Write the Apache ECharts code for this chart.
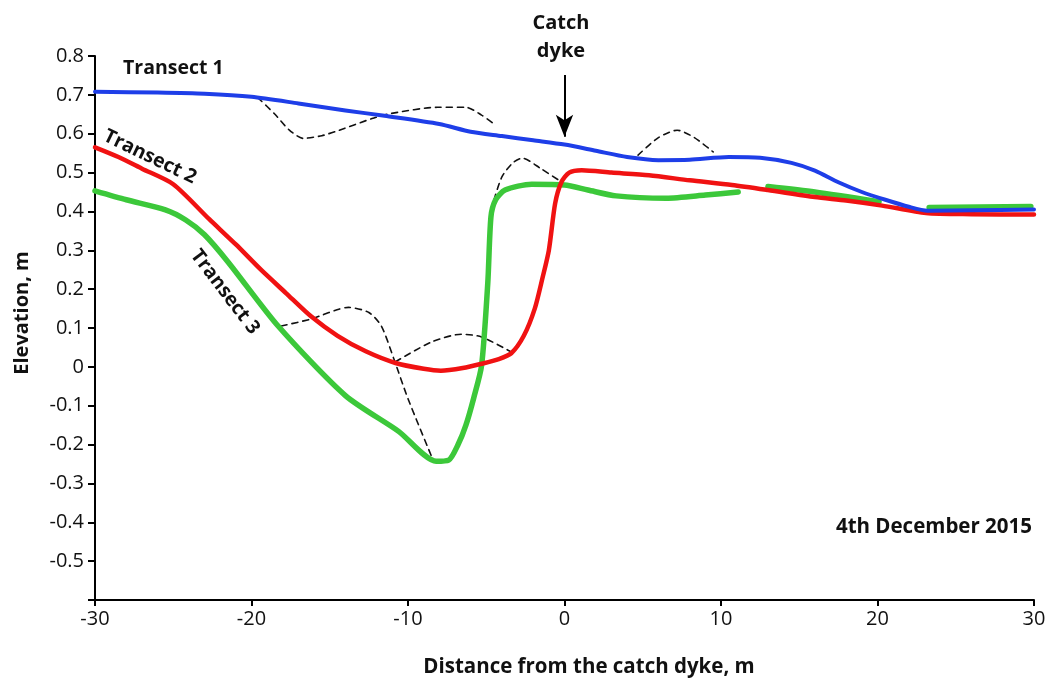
<!DOCTYPE html>
<html>
<head>
<meta charset="utf-8">
<script src="https://cdn.jsdelivr.net/npm/echarts@6/dist/echarts.min.js"></script>
<style>html,body{margin:0;padding:0;background:#fff;}#c{width:1051px;height:679px;}</style>
</head>
<body>
<div id="c"></div>
<script>
// ---- data (distance m, elevation m) ----
var transect1 = [[-30,0.708],[-26,0.706],[-23,0.703],[-20,0.695],[-17,0.678],[-14,0.66],[-11.5,0.646],[-8,0.625],[-6,0.605],[-4,0.594],[-2,0.583],[0,0.572],[2,0.556],[4,0.54],[6,0.532],[8,0.533],[10.5,0.54],[12.5,0.538],[14.5,0.525],[16,0.505],[17.5,0.475],[19,0.45],[20.5,0.43],[22,0.412],[23.2,0.402],[26,0.403],[30,0.405]];
var transect2 = [[-30,0.565],[-28.5,0.54],[-27,0.51],[-25,0.47],[-22.7,0.38],[-21,0.315],[-19.4,0.25],[-17.8,0.19],[-16.2,0.13],[-14.5,0.08],[-12.7,0.04],[-10.8,0.01],[-9,-0.005],[-7.9,-0.01],[-6.5,-0.003],[-5.3,0.008],[-4.2,0.02],[-3.4,0.035],[-2.6,0.08],[-1.9,0.15],[-1.4,0.23],[-1.0,0.30],[-0.6,0.42],[-0.2,0.475],[0.3,0.5],[1.1,0.506],[3,0.5],[5.4,0.493],[8,0.48],[10.7,0.468],[13,0.455],[16,0.437],[18,0.428],[20.3,0.415],[23.1,0.396],[26,0.393],[30,0.392]];
var transect3a = [[-30,0.453],[-28,0.43],[-25.5,0.404],[-24.2,0.378],[-23,0.34],[-21.5,0.27],[-18.3,0.105],[-14,-0.074],[-10.6,-0.166],[-8.2,-0.243],[-7.4,-0.24],[-6.8,-0.2],[-6.3,-0.15],[-5.8,-0.08],[-5.3,0.003],[-4.9,0.217],[-4.7,0.386],[-4.4,0.43],[-3.8,0.455],[-2.1,0.47],[0,0.468],[1.5,0.455],[3.3,0.44],[6.5,0.434],[9,0.442],[11.1,0.45]];
var transect3b = [[13,0.464],[16,0.45],[20.1,0.425]];
var transect3c = [[23.3,0.41],[29.8,0.413]];
var dashed1 = [[-19.6,0.693],[-18.5,0.65],[-17.6,0.61],[-16.7,0.588],[-15.5,0.595],[-14.4,0.609],[-12.3,0.639],[-11.1,0.652],[-8.1,0.668],[-6.3,0.668],[-5.3,0.648],[-4.4,0.622]];
var dashed2 = [[4.7,0.545],[6,0.59],[7.2,0.609],[8.3,0.59],[9.5,0.553]];
var dashed3 = [[-18.1,0.105],[-16.2,0.123],[-13.8,0.153],[-12.5,0.14],[-11.7,0.105],[-10.9,0.02],[-10,-0.082],[-8.5,-0.23]];
var dashed4 = [[-10.8,0.013],[-8.5,0.064],[-6.6,0.084],[-5.3,0.077],[-3.3,0.036]];
var dashed5 = [[-4.5,0.43],[-4.0,0.489],[-3.3,0.525],[-2.7,0.537],[-1.5,0.51],[-0.2,0.476]];
var dykeArrow = [[0,0.751],[0,0.592]];
var xTicks = [-30,-20,-10,0,10,20,30];
var yTicks = [-0.6,-0.5,-0.4,-0.3,-0.2,-0.1,0,0.1,0.2,0.3,0.4,0.5,0.6,0.7,0.8];

var BLUE='#1e3ee8', RED='#f01212', GREEN='#3cc83a';
var FONT='"Open Sans", "Noto Sans", sans-serif';
var chart = echarts.init(document.getElementById('c'));

function line(data, color, width, dashed, z){
  return {type:'line', data:data, smooth:0.25, showSymbol:false, symbol:'none', z:z||2,
    lineStyle:{color:color, width:width, type: dashed ? [6,5] : 'solid', cap:'round', join:'round'},
    emphasis:{disabled:true}, animation:false};
}
var series = [
  line(dashed1,'#111',1.6,true,1), line(dashed2,'#111',1.6,true,1), line(dashed3,'#111',1.6,true,1),
  line(dashed4,'#111',1.6,true,1), line(dashed5,'#111',1.6,true,1),
  line(transect3a,GREEN,5.5,false,3), line(transect3b,GREEN,5.5,false,3), line(transect3c,GREEN,5.5,false,3),
  line(transect2,RED,4.5,false,4),
  line(transect1,BLUE,4,false,5),
  {type:'line', data:[], silent:true, animation:false,
   markLine:{silent:true, symbol:['none','arrow'], symbolSize:[13,22], animation:false,
     label:{show:false}, lineStyle:{color:'#000', width:2, type:'solid'},
     data:[[{coord:dykeArrow[0]},{coord:dykeArrow[1]}]]}}
];

chart.setOption({
  animation:false,
  backgroundColor:'#fff',
  grid:{left:95, right:17, top:56, bottom:79},
  xAxis:{type:'value', min:-30, max:30, interval:10,
    axisLine:{onZero:false, lineStyle:{color:'#000', width:2}},
    axisTick:{show:true, length:6, lineStyle:{color:'#000', width:2}},
    axisLabel:{color:'#111', fontSize:20, fontFamily:FONT, margin:9,
      formatter:function(v){ return xTicks.indexOf(v)>=0 ? String(v) : ''; }},
    splitLine:{show:false}},
  yAxis:{type:'value', min:-0.6, max:0.8, interval:0.1,
    axisLine:{show:true, onZero:false, lineStyle:{color:'#000', width:2}},
    axisTick:{show:true, length:7, lineStyle:{color:'#000', width:2}},
    axisLabel:{color:'#111', fontSize:20, fontFamily:FONT, margin:11,
      formatter:function(v){ var r=Math.round(v*10)/10; if (Math.abs(r-yTicks[0])<1e-9) return ''; return String(r); }},
    splitLine:{show:false}},
  series:series,
  graphic:[
    {type:'text', left:123, top:58, style:{text:'Transect 1', font:'bold 19.5px '+FONT, fill:'#111'}},
    {type:'text', x:150, y:157, rotation:-0.45, style:{text:'Transect 2', font:'bold 19.5px '+FONT, fill:'#111', align:'center', verticalAlign:'middle'}},
    {type:'text', x:225, y:292, rotation:-0.92, style:{text:'Transect 3', font:'bold 19.5px '+FONT, fill:'#111', align:'center', verticalAlign:'middle'}},
    {type:'text', x:561, y:23, style:{text:'Catch', font:'bold 20px '+FONT, fill:'#111', align:'center', verticalAlign:'middle'}},
    {type:'text', x:561, y:51, style:{text:'dyke', font:'bold 20px '+FONT, fill:'#111', align:'center', verticalAlign:'middle'}},
    {type:'text', x:1032, y:527, style:{text:'4th December 2015', font:'bold 20.5px '+FONT, fill:'#111', align:'right', verticalAlign:'middle'}},
    {type:'text', x:589, y:667, style:{text:'Distance from the catch dyke, m', font:'bold 20.5px '+FONT, fill:'#111', align:'center', verticalAlign:'middle'}},
    {type:'text', x:22, y:313, rotation:Math.PI/2, style:{text:'Elevation, m', font:'bold 20px '+FONT, fill:'#111', align:'center', verticalAlign:'middle'}}
  ]
});
</script>
</body>
</html>
